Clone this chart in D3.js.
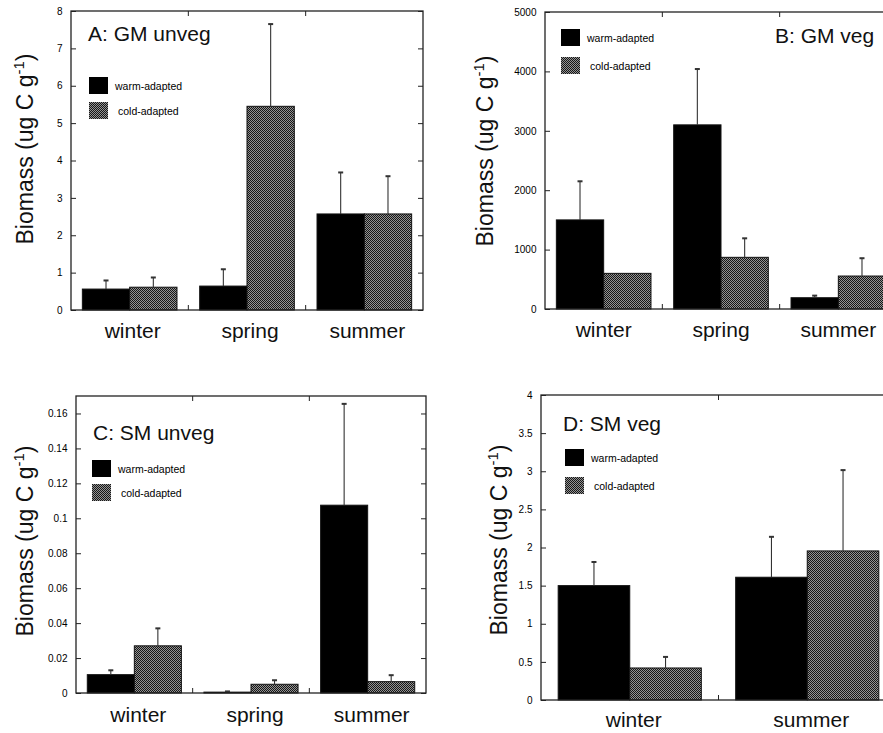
<!DOCTYPE html>
<html>
<head>
<meta charset="utf-8">
<script src="https://cdn.jsdelivr.net/npm/d3@7"></script>
<style>
  html, body { margin: 0; padding: 0; background: #fff; overflow: hidden; }
  svg { display: block; font-family: "Liberation Sans", Arial, Helvetica, sans-serif; }
</style>
</head>
<body>
<svg id="chart" width="883" height="733"></svg>
<script>
// categories & series
const seasons3 = ["winter", "spring", "summer"];
const seasons2 = ["winter", "summer"];
const seriesNames = ["warm-adapted", "cold-adapted"];

// A: GM unveg
const gmUnvegWarm = [0.56, 0.64, 2.57];
const gmUnvegWarmErr = [0.23, 0.45, 1.11];
const gmUnvegCold = [0.61, 5.45, 2.57];
const gmUnvegColdErr = [0.26, 2.2, 1.01];
const gmUnvegTicks = [0, 1, 2, 3, 4, 5, 6, 7, 8];

// B: GM veg
const gmVegWarm = [1500, 3100, 190];
const gmVegWarmErr = [650, 940, 35];
const gmVegCold = [600, 870, 555];
const gmVegColdErr = [0, 320, 300];
const gmVegTicks = [0, 1000, 2000, 3000, 4000, 5000];

// C: SM unveg
const smUnvegWarm = [0.0105, 0.0005, 0.1075];
const smUnvegWarmErr = [0.0025, 0.0004, 0.058];
const smUnvegCold = [0.027, 0.005, 0.0065];
const smUnvegColdErr = [0.010, 0.0023, 0.0037];
const smUnvegTicks = [0, 0.02, 0.04, 0.06, 0.08, 0.1, 0.12, 0.14, 0.16];

// D: SM veg
const smVegWarm = [1.5, 1.61];
const smVegWarmErr = [0.31, 0.53];
const smVegCold = [0.42, 1.955];
const smVegColdErr = [0.145, 1.06];
const smVegTicks = [0, 0.5, 1, 1.5, 2, 2.5, 3, 3.5, 4];

const svg = d3.select("#chart");

// halftone-ish fill for cold-adapted bars
const defs = svg.append("defs");
const pat = defs.append("pattern")
  .attr("id", "checker")
  .attr("width", 2).attr("height", 2)
  .attr("patternUnits", "userSpaceOnUse");
pat.append("rect").attr("width", 2).attr("height", 2).attr("fill", "#939393");
pat.append("rect").attr("x", 0).attr("y", 0).attr("width", 1).attr("height", 1).attr("fill", "#161616");
pat.append("rect").attr("x", 1).attr("y", 1).attr("width", 1).attr("height", 1).attr("fill", "#161616");

const fills = ["#000", "url(#checker)"];

function drawPanel(p) {
  const g = svg.append("g");

  const x = d3.scaleBand()
    .domain(p.categories)
    .range([p.left, p.right]);
  const xs = d3.scaleBand()
    .domain(seriesNames)
    .range([0, x.bandwidth()])
    .paddingOuter(0.24);
  const y = d3.scaleLinear()
    .domain(p.domain)
    .range([p.bottom, p.top]);

  // rows: one per category x series
  const rows = [];
  p.categories.forEach((c, i) => {
    rows.push({ cat: c, s: 0, v: p.warm[i], e: p.warmErr[i] });
    rows.push({ cat: c, s: 1, v: p.cold[i], e: p.coldErr[i] });
  });

  // bars
  g.append("g").selectAll("rect")
    .data(rows)
    .enter()
    .append("rect")
    .attr("x", d => x(d.cat) + xs(seriesNames[d.s]))
    .attr("y", d => y(d.v))
    .attr("width", xs.bandwidth())
    .attr("height", d => y(0) - y(d.v))
    .attr("fill", d => fills[d.s])
    .attr("stroke", "#111")
    .attr("stroke-width", 1);

  // upper error bars
  const err = g.append("g").selectAll("g")
    .data(rows.filter(d => d.e > 0))
    .enter()
    .append("g")
    .attr("transform", d => `translate(${x(d.cat) + xs(seriesNames[d.s]) + xs.bandwidth() / 2},0)`);
  err.append("line")
    .attr("y1", d => y(d.v))
    .attr("y2", d => y(d.v + d.e))
    .attr("stroke", "#333")
    .attr("stroke-width", 1.1);
  err.append("rect")
    .attr("x", -2.5)
    .attr("y", d => y(d.v + d.e) - 1)
    .attr("width", 5)
    .attr("height", 2)
    .attr("fill", "#333");

  // frame
  g.append("rect")
    .attr("x", p.left).attr("y", p.top)
    .attr("width", p.right - p.left).attr("height", p.bottom - p.top)
    .attr("fill", "none")
    .attr("stroke", "#222")
    .attr("stroke-width", 1.3);

  // left axis with inward ticks
  const left = g.append("g")
    .attr("transform", `translate(${p.left},0)`)
    .call(d3.axisLeft(y).tickValues(p.ticks).tickSizeInner(-5).tickSizeOuter(0).tickPadding(8.5)
      .tickFormat(v => String(+v.toFixed(3))));
  left.select(".domain").remove();
  left.selectAll("line").attr("stroke", "#222");
  left.selectAll("text")
    .attr("font-family", "'Liberation Sans', Arial, sans-serif")
    .attr("font-size", 10)
    .attr("fill", "#000");

  // right axis, ticks only
  const right = g.append("g")
    .attr("transform", `translate(${p.right},0)`)
    .call(d3.axisRight(y).tickValues(p.ticks).tickSizeInner(-5).tickSizeOuter(0).tickFormat(""));
  right.select(".domain").remove();
  right.selectAll("line").attr("stroke", "#222");

  // ticks at category boundaries, top and bottom
  const bounds = p.categories.slice(1).map(c => x(c));
  g.append("g").selectAll("line")
    .data(bounds)
    .enter()
    .append("line")
    .attr("x1", d => d).attr("x2", d => d)
    .attr("y1", p.top).attr("y2", p.top + 5)
    .attr("stroke", "#222");
  g.append("g").selectAll("line")
    .data(bounds)
    .enter()
    .append("line")
    .attr("x1", d => d).attr("x2", d => d)
    .attr("y1", p.bottom).attr("y2", p.bottom - 5)
    .attr("stroke", "#222");

  // category labels
  g.append("g").selectAll("text")
    .data(p.categories)
    .enter()
    .append("text")
    .attr("x", d => x(d) + x.bandwidth() / 2 + p.catShift)
    .attr("y", p.catBaseline)
    .attr("text-anchor", "middle")
    .attr("font-size", 21)
    .attr("fill", "#111")
    .text(d => d);

  // y axis label
  const yl = g.append("text")
    .attr("transform", `translate(${p.ylabX},${p.ylabY}) rotate(-90)`)
    .attr("text-anchor", "middle")
    .attr("font-size", 23)
    .attr("fill", "#111");
  yl.append("tspan").text("Biomass (ug C g");
  yl.append("tspan").attr("font-size", 15).attr("dy", -9).text("-1");
  yl.append("tspan").attr("dy", 9).text(")");

  // panel title
  g.append("text")
    .attr("x", p.titleX)
    .attr("y", p.titleY)
    .attr("font-size", 21)
    .attr("fill", "#111")
    .text(p.title);

  // legend
  const leg = g.append("g").selectAll("g")
    .data(seriesNames)
    .enter()
    .append("g")
    .attr("transform", (d, i) => `translate(${p.legX},${p.legY + i * p.legGap})`);
  leg.append("rect")
    .attr("width", 19).attr("height", 17)
    .attr("fill", (d, i) => fills[i]);
  leg.append("text")
    .attr("x", (d, i) => i === 0 ? 26 : 29)
    .attr("y", 12.5)
    .attr("font-size", 10.5)
    .attr("fill", "#000")
    .text(d => d);
}

drawPanel({
  title: "A: GM unveg", titleX: 88, titleY: 41,
  categories: seasons3, warm: gmUnvegWarm, warmErr: gmUnvegWarmErr, cold: gmUnvegCold, coldErr: gmUnvegColdErr,
  ticks: gmUnvegTicks, domain: [0, 8],
  left: 71, right: 423, top: 11, bottom: 310,
  catBaseline: 338, catShift: 3,
  ylabX: 33, ylabY: 149,
  legX: 89, legY: 77, legGap: 25
});

drawPanel({
  title: "B: GM veg", titleX: 775, titleY: 43,
  categories: seasons3, warm: gmVegWarm, warmErr: gmVegWarmErr, cold: gmVegCold, coldErr: gmVegColdErr,
  ticks: gmVegTicks, domain: [0, 5000],
  left: 545, right: 897, top: 12, bottom: 309,
  catBaseline: 337, catShift: 0,
  ylabX: 493, ylabY: 151,
  legX: 561, legY: 29, legGap: 28
});

drawPanel({
  title: "C: SM unveg", titleX: 93, titleY: 440,
  categories: seasons3, warm: smUnvegWarm, warmErr: smUnvegWarmErr, cold: smUnvegCold, coldErr: smUnvegColdErr,
  ticks: smUnvegTicks, domain: [0, 0.17],
  left: 76, right: 426, top: 396, bottom: 693,
  catBaseline: 722, catShift: 4,
  ylabX: 33, ylabY: 541,
  legX: 92, legY: 460, legGap: 24
});

drawPanel({
  title: "D: SM veg", titleX: 563, titleY: 431,
  categories: seasons2, warm: smVegWarm, warmErr: smVegWarmErr, cold: smVegCold, coldErr: smVegColdErr,
  ticks: smVegTicks, domain: [0, 4],
  left: 541, right: 896, top: 395, bottom: 700,
  catBaseline: 727, catShift: 4,
  ylabX: 507, ylabY: 540,
  legX: 565, legY: 449, legGap: 28
});
</script>
</body>
</html>
